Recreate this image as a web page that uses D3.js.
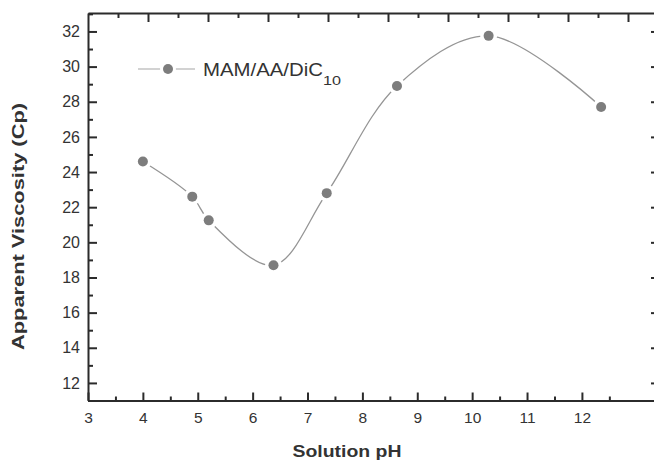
<!DOCTYPE html>
<html lang="en">
<head>
  <meta charset="UTF-8">
  <title>Apparent Viscosity vs Solution pH</title>
  <style>
    body { margin: 0; background: #fff; }
    .axis path, .axis line { fill: none; stroke: #2b2b2b; stroke-width: 2px; }
    .curve { fill: none; stroke: #959595; stroke-width: 1.3px; }
    .dot { fill: #7d7d7d; }
    .label { font-family: "Liberation Sans", Arial, sans-serif; font-weight: bold; fill: #333; }
  </style>
</head>
<body>
  <svg width="654" height="460"></svg>
  <script src="https://cdn.jsdelivr.net/npm/d3@7"></script>
  <script>
    // data
    var ph = [4.0, 4.9, 5.2, 6.38, 7.35, 8.63, 10.3, 12.35];
    var viscosity = [24.6, 22.6, 21.25, 18.7, 22.8, 28.9, 31.75, 27.7];
    var xTicks = [3, 4, 5, 6, 7, 8, 9, 10, 11, 12];
    var yTicks = [12, 14, 16, 18, 20, 22, 24, 26, 28, 30, 32];
    var seriesName = "MAM/AA/DiC";
    var seriesSub = "10";

    var data = ph.map(function(p, i) { return {ph: p, v: viscosity[i]}; });

    var svg = d3.select("svg"),
        plotL = 88, plotR = 656, plotT = 13, plotB = 400.5;

    var x = d3.scaleLinear().domain([3, 13.35]).range([plotL, plotR]);
    var y = d3.scaleLinear().domain([11, 33.05]).range([plotB, plotT]);
    // the top frame carries its own tick spacing in the original
    var xTop = d3.scaleLinear().domain([0, (plotR - plotL) / 60]).range([plotL, plotR]);

    var minorX = d3.range(3.5, 13.3, 1);
    var minorY = d3.range(11, 34, 2);

    function tickText(size) {
      return function(g) {
        g.selectAll("text")
          .style("font-family", "'Liberation Sans', Arial, sans-serif")
          .style("font-size", size + "px")
          .attr("fill", "#333");
      };
    }

    // bottom axis: majors with labels, minors inside
    svg.append("g")
        .attr("class", "axis")
        .attr("transform", "translate(0," + plotB + ")")
        .call(d3.axisBottom(x).tickValues(minorX).tickSize(-4).tickFormat(""))
        .call(function(g) { g.select(".domain").remove(); });
    svg.append("g")
        .attr("class", "axis")
        .attr("transform", "translate(0," + plotB + ")")
        .call(d3.axisBottom(x).tickValues(xTicks).tickSize(-8).tickSizeOuter(0).tickPadding(11))
        .call(tickText(15.5));

    // left axis
    svg.append("g")
        .attr("class", "axis")
        .attr("transform", "translate(" + plotL + ",0)")
        .call(d3.axisLeft(y).tickValues(minorY).tickSize(-5).tickFormat(""))
        .call(function(g) { g.select(".domain").remove(); });
    svg.append("g")
        .attr("class", "axis")
        .attr("transform", "translate(" + plotL + ",0)")
        .call(d3.axisLeft(y).tickValues(yTicks).tickSize(-9).tickSizeOuter(0).tickPadding(8))
        .call(tickText(16));

    // top frame
    svg.append("g")
        .attr("class", "axis")
        .attr("transform", "translate(0," + plotT + ")")
        .call(d3.axisTop(xTop).tickValues(d3.range(0.5, 9.5, 1)).tickSize(-5).tickFormat(""))
        .call(function(g) { g.select(".domain").remove(); });
    svg.append("g")
        .attr("class", "axis")
        .attr("transform", "translate(0," + plotT + ")")
        .call(d3.axisTop(xTop).tickValues(d3.range(1, 10, 1)).tickSize(-9).tickSizeOuter(0).tickFormat(""));

    // right frame (mostly cut off by the picture edge)
    svg.append("g")
        .attr("class", "axis")
        .attr("transform", "translate(" + plotR + ",0)")
        .call(d3.axisRight(y).tickValues(yTicks).tickSize(-5).tickSizeOuter(0).tickFormat(""));

    // spline through the points
    var line = d3.line()
        .curve(d3.curveCatmullRom.alpha(0.5))
        .x(function(d) { return x(d.ph); })
        .y(function(d) { return y(d.v); });

    svg.append("path")
        .datum(data)
        .attr("class", "curve")
        .attr("d", line);

    // white halo so the line stops short of each marker
    svg.selectAll(".halo")
      .data(data)
      .enter().append("circle")
        .attr("class", "halo")
        .attr("cx", function(d) { return x(d.ph); })
        .attr("cy", function(d) { return y(d.v); })
        .attr("r", 8.5)
        .attr("fill", "#fff");

    svg.selectAll(".dot")
      .data(data)
      .enter().append("circle")
        .attr("class", "dot")
        .attr("cx", function(d) { return x(d.ph); })
        .attr("cy", function(d) { return y(d.v); })
        .attr("r", 5);

    // legend
    var lg = svg.append("g").attr("transform", "translate(138,69)");
    lg.append("line")
        .attr("x1", 0).attr("x2", 57)
        .attr("stroke", "#a5a5a5").attr("stroke-width", 1.2);
    lg.append("circle").attr("cx", 30).attr("r", 8).attr("fill", "#fff");
    lg.append("circle").attr("class", "dot").attr("cx", 30).attr("r", 5);
    var lt = lg.append("text")
        .attr("x", 65).attr("y", 7)
        .style("font", "18px 'Liberation Sans', Arial, sans-serif")
        .attr("fill", "#333");
    lt.append("tspan").text(seriesName)
        .attr("textLength", 120).attr("lengthAdjust", "spacingAndGlyphs");
    lt.append("tspan").text(seriesSub)
        .attr("dy", 9).style("font-size", "12px")
        .attr("textLength", 18).attr("lengthAdjust", "spacingAndGlyphs");

    // axis titles
    svg.append("text")
        .attr("class", "label")
        .attr("x", 347).attr("y", 457)
        .attr("text-anchor", "middle")
        .style("font-size", "17px")
        .attr("textLength", 109).attr("lengthAdjust", "spacingAndGlyphs")
        .text("Solution pH");

    svg.append("text")
        .attr("class", "label")
        .attr("transform", "translate(24,226.5) rotate(-90)")
        .attr("text-anchor", "middle")
        .style("font-size", "17px")
        .attr("textLength", 247).attr("lengthAdjust", "spacingAndGlyphs")
        .text("Apparent Viscosity (Cp)");
  </script>
</body>
</html>
